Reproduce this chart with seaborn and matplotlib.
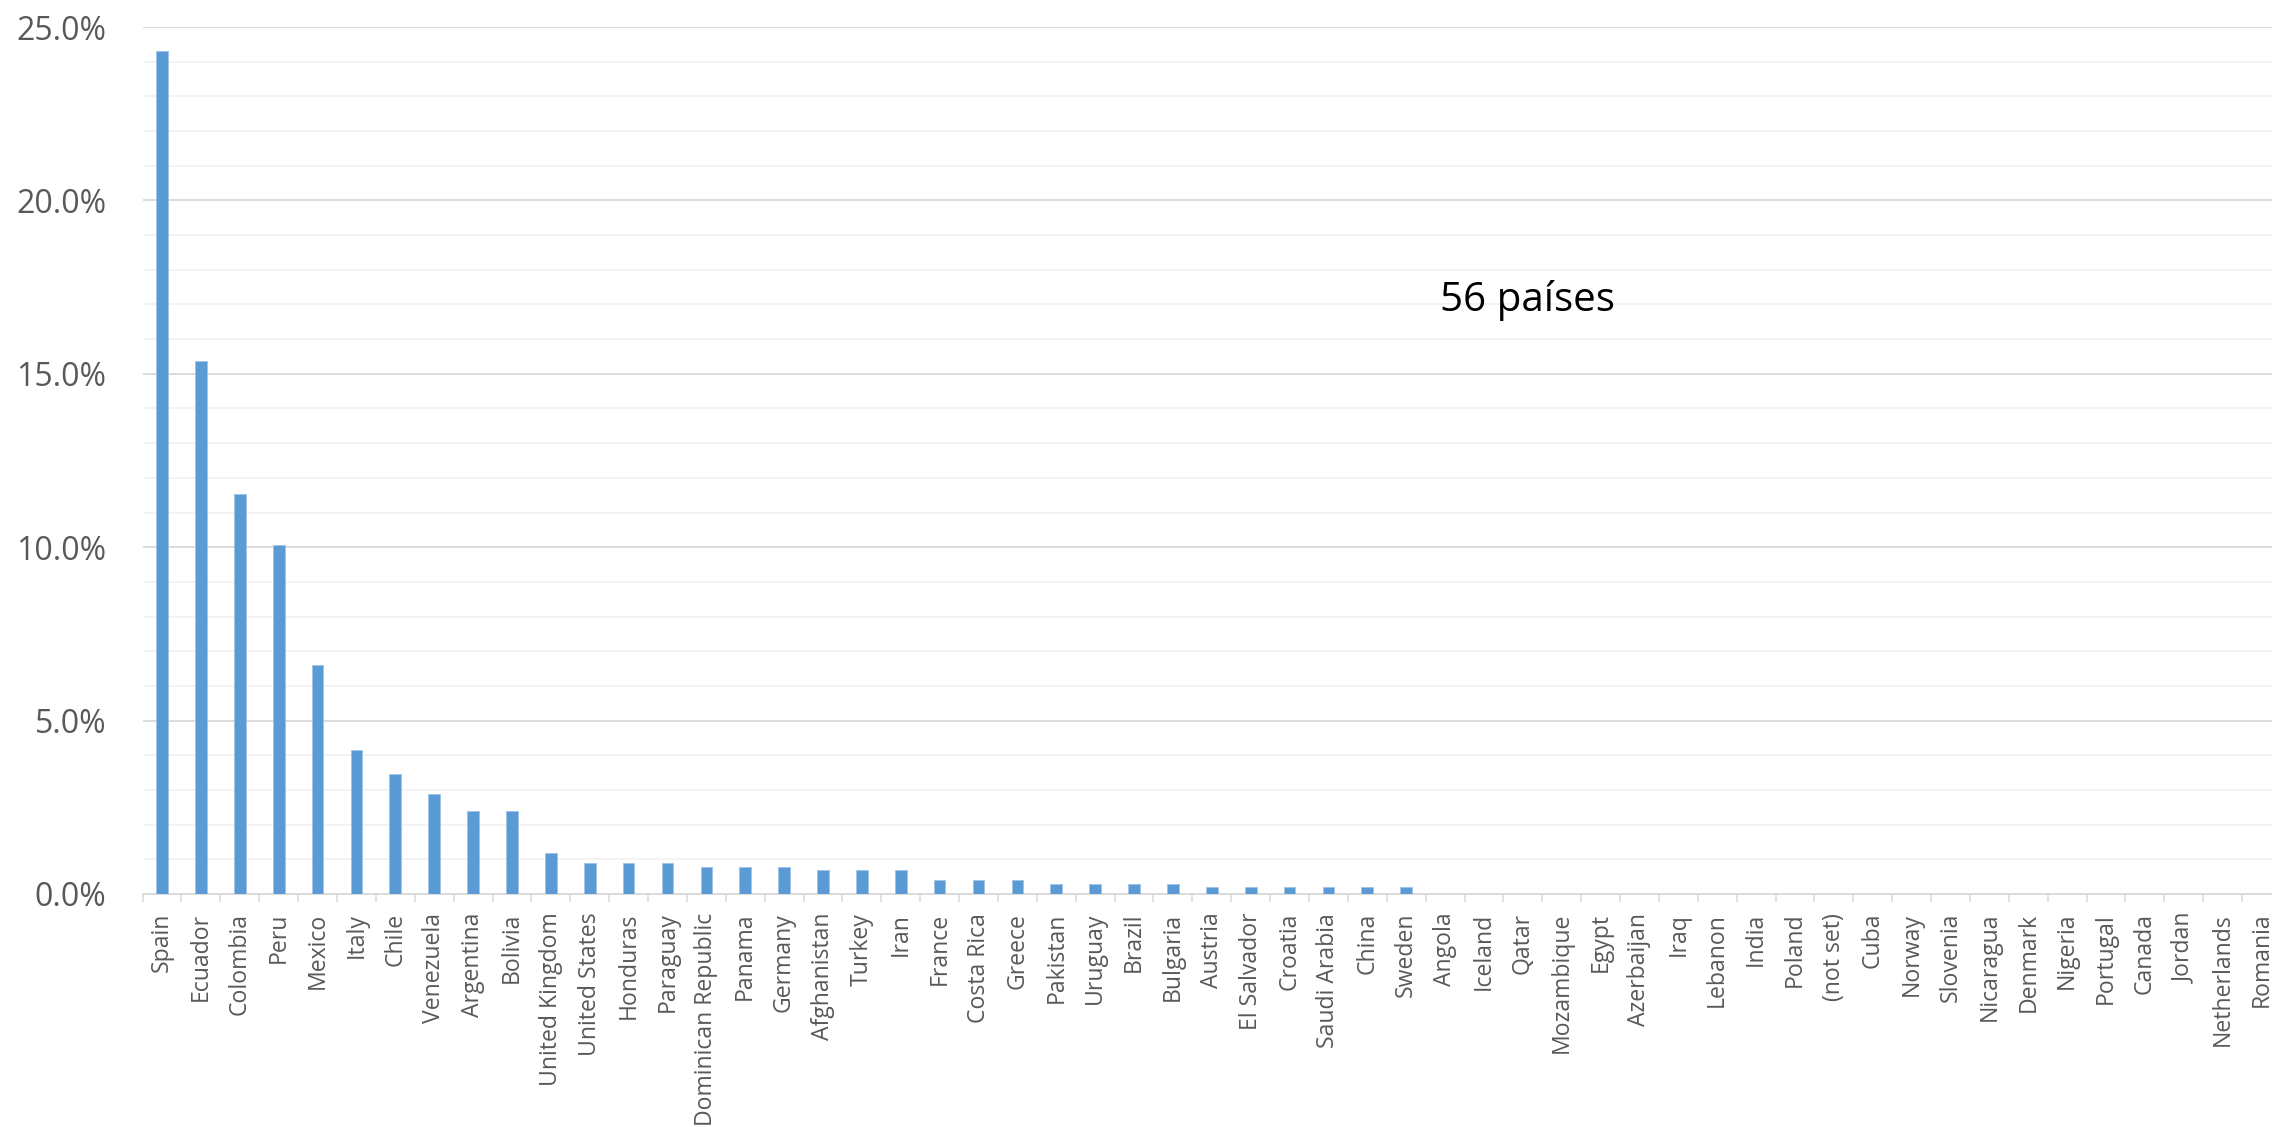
import pandas as pd
import numpy as np
import matplotlib
matplotlib.use('Agg')
import matplotlib.pyplot as plt
from matplotlib.ticker import MultipleLocator, FuncFormatter
import seaborn as sns

# Estilo
sns.set_theme(style='white')
plt.rcParams['font.family'] = ['Open Sans', 'DejaVu Sans']

# Datos
paises = ['Spain', 'Ecuador', 'Colombia', 'Peru', 'Mexico', 'Italy', 'Chile',
          'Venezuela', 'Argentina', 'Bolivia', 'United Kingdom', 'United States',
          'Honduras', 'Paraguay', 'Dominican Republic', 'Panama', 'Germany',
          'Afghanistan', 'Turkey', 'Iran', 'France', 'Costa Rica', 'Greece',
          'Pakistan', 'Uruguay', 'Brazil', 'Bulgaria', 'Austria', 'El Salvador',
          'Croatia', 'Saudi Arabia', 'China', 'Sweden', 'Angola', 'Iceland',
          'Qatar', 'Mozambique', 'Egypt', 'Azerbaijan', 'Iraq', 'Lebanon',
          'India', 'Poland', '(not set)', 'Cuba', 'Norway', 'Slovenia',
          'Nicaragua', 'Denmark', 'Nigeria', 'Portugal', 'Canada', 'Jordan',
          'Netherlands', 'Romania']
porcentaje = [24.30, 15.36, 11.53, 10.06, 6.60, 4.16, 3.46,
              2.87, 2.38, 2.38, 1.18, 0.88,
              0.88, 0.88, 0.78, 0.78, 0.78,
              0.68, 0.68, 0.68, 0.39, 0.39, 0.39,
              0.29, 0.29, 0.29, 0.29, 0.19, 0.19,
              0.19, 0.19, 0.19, 0.19, 0, 0,
              0, 0, 0, 0, 0, 0,
              0, 0, 0, 0, 0, 0,
              0, 0, 0, 0, 0, 0,
              0, 0]
anotacion = '56 países'

df = pd.DataFrame({'pais': paises, 'pct': porcentaje})

W, H = 2272, 1127
fig = plt.figure(figsize=(W / 100, H / 100), dpi=100)
ax = fig.add_axes([142.6 / W, 1 - 894 / H, 1 - 142.6 / W, (894 - 27) / H])

sns.barplot(data=df, x='pais', y='pct', color='#5B9BD5', saturation=1,
            width=0.3, edgecolor='#9DC3E6', linewidth=0.6, ax=ax, zorder=3)

# Ejes y cuadrícula
ax.set_ylim(0, 25)
ax.set_xlim(-0.5, (W - 142.6) / 38.88 - 0.5)
ax.yaxis.set_major_locator(MultipleLocator(5))
ax.yaxis.set_minor_locator(MultipleLocator(1))
ax.yaxis.set_major_formatter(FuncFormatter(lambda v, p: f'{v:.1f}%'))
ax.grid(axis='y', which='major', color='#D9D9D9', linewidth=1.3, zorder=0)
ax.grid(axis='y', which='minor', color='#F2F2F2', linewidth=1.3, zorder=0)
ax.set_axisbelow(True)

for s in ['left', 'right', 'top']:
    ax.spines[s].set_visible(False)
ax.spines['bottom'].set_color('#D9D9D9')
ax.spines['bottom'].set_linewidth(1.3)

ax.set_xticks(np.arange(len(paises)))
ax.set_xticklabels(paises, rotation=90, fontsize=16.6, color='#595959')
ax.xaxis.set_minor_locator(MultipleLocator(1, offset=0.5))
ax.tick_params(axis='x', which='major', length=0, pad=13.5)
ax.tick_params(axis='x', which='minor', bottom=True, length=5.8,
               width=1.1, color='#D9D9D9')
ax.tick_params(axis='y', which='both', length=0, pad=26,
               labelsize=23, labelcolor='#595959')
ax.set_xlabel('')
ax.set_ylabel('')

fig.text(1527 / W, 1 - 301 / H, anotacion, fontsize=29, color='black',
         ha='center', va='center')

fig.savefig('out.png', dpi=100)
plt.close()
